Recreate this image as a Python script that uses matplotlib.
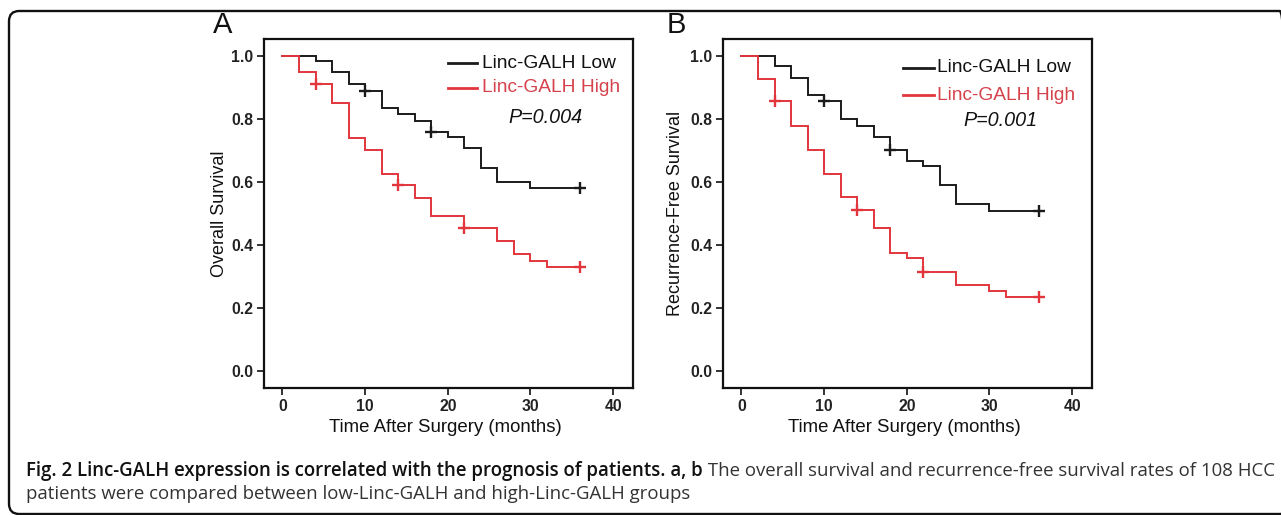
import matplotlib
matplotlib.use("Agg")
import matplotlib.pyplot as plt
from matplotlib.patches import FancyBboxPatch
from matplotlib.lines import Line2D

# ---------------- data ----------------
os_low_t = [0, 4, 6, 8, 10, 12, 14, 16, 18, 20, 22, 24, 26, 30, 36]
os_low_s = [1.0, 0.983, 0.948, 0.911, 0.890, 0.835, 0.816, 0.794, 0.757, 0.742, 0.708, 0.644, 0.601, 0.580, 0.580]
os_low_cens_t = [10, 18, 36]

os_high_t = [0, 2, 4, 6, 8, 10, 12, 14, 16, 18, 22, 26, 28, 30, 32, 36]
os_high_s = [1.0, 0.948, 0.911, 0.851, 0.740, 0.700, 0.625, 0.589, 0.549, 0.490, 0.453, 0.411, 0.371, 0.350, 0.328, 0.328]
os_high_cens_t = [4, 14, 22, 36]

rfs_low_t = [0, 4, 6, 8, 10, 12, 14, 16, 18, 20, 22, 24, 26, 30, 36]
rfs_low_s = [1.0, 0.967, 0.930, 0.877, 0.856, 0.801, 0.778, 0.741, 0.702, 0.665, 0.649, 0.591, 0.530, 0.506, 0.506]
rfs_low_cens_t = [10, 18, 36]

rfs_high_t = [0, 2, 4, 6, 8, 10, 12, 14, 16, 18, 20, 22, 26, 30, 32, 36]
rfs_high_s = [1.0, 0.928, 0.856, 0.777, 0.702, 0.626, 0.551, 0.512, 0.454, 0.374, 0.358, 0.314, 0.273, 0.254, 0.233, 0.233]
rfs_high_cens_t = [4, 14, 22, 36]

x_ticks = [0, 10, 20, 30, 40]
y_ticks = [0.0, 0.2, 0.4, 0.6, 0.8, 1.0]
series_labels = ["Linc-GALH Low", "Linc-GALH High"]
p_values = ["P=0.004", "P=0.001"]
panel_letters = ["A", "B"]
y_labels = ["Overall Survival", "Recurrence-Free Survival"]
x_label = "Time After Surgery (months)"
caption_bold = "Fig. 2 Linc-GALH expression is correlated with the prognosis of patients. a, b"
caption_reg1 = " The overall survival and recurrence-free survival rates of 108 HCC"
caption_reg2 = "patients were compared between low-Linc-GALH and high-Linc-GALH groups"

# ---------------- style ----------------
W, H, DPI = 1281, 515, 100
BLACK = "#1b1b1b"
RED = "#e2353c"
RED_TXT = "#d6424c"
CHART_FONT = "Liberation Sans"
CAP_FONT = "Open Sans"

fig = plt.figure(figsize=(W / DPI, H / DPI), dpi=DPI)
fig.patch.set_facecolor("white")


def fx(px):
    return px / W


def fy(py):
    return 1 - py / H


# rounded outer frame
frame = FancyBboxPatch((fx(9), fy(514)), fx(1290 - 9), fy(11) - fy(514),
                       boxstyle="round,pad=0,rounding_size=0.008",
                       transform=fig.transFigure, fill=False,
                       edgecolor="#111111", linewidth=1.7, mutation_aspect=W / H,
                       clip_on=False)
fig.patches.append(frame)

panels = [
    dict(left=264.3, right=633, low=(os_low_t, os_low_s, os_low_cens_t),
         high=(os_high_t, os_high_s, os_high_cens_t),
         leg_line=(448, 477), leg_text_x=482, leg_y=(63, 88), p_xy=(545, 118),
         letter_xy=(223, 25), ylab_x=220),
    dict(left=723.3, right=1092, low=(rfs_low_t, rfs_low_s, rfs_low_cens_t),
         high=(rfs_high_t, rfs_high_s, rfs_high_cens_t),
         leg_line=(903, 934), leg_text_x=937, leg_y=(68, 95), p_xy=(1000, 121),
         letter_xy=(676, 25), ylab_x=676),
]
top_px, bot_px = 39.3, 388

for i, p in enumerate(panels):
    ax = fig.add_axes([fx(p["left"]), fy(bot_px), fx(p["right"] - p["left"]),
                       (bot_px - top_px) / H])
    for (t, s, ct), col in ((p["low"], BLACK), (p["high"], RED)):
        ax.step(t, s, where="post", color=col, lw=1.4, solid_joinstyle="miter")
        cs = [s[t.index(c)] for c in ct]
        ax.plot(ct, cs, ls="none", marker="+", ms=8, mew=1.7, color=col)
    ax.set_xlim(-2.2, 42.4)
    ax.set_ylim(-0.055, 1.053)
    ax.set_xticks(x_ticks)
    ax.set_xticklabels([str(v) for v in x_ticks])
    ax.set_yticks(y_ticks)
    ax.set_yticklabels([f"{v:.1f}" for v in y_ticks])
    for sp in ax.spines.values():
        sp.set_linewidth(1.6)
        sp.set_color("#111111")
    ax.tick_params(direction="out", length=5, width=1.2, color="#111111",
                   labelsize=11.3, pad=3, labelcolor="#222222")
    for lab in ax.get_xticklabels() + ax.get_yticklabels():
        lab.set_fontfamily(CHART_FONT)
        lab.set_fontweight("bold")

    # legend (manual, to match original placement)
    x0, x1 = p["leg_line"]
    for yy, col, txt, tcol in ((p["leg_y"][0], BLACK, series_labels[0], "#111111"),
                               (p["leg_y"][1], RED, series_labels[1], RED_TXT)):
        fig.add_artist(Line2D([fx(x0), fx(x1)], [fy(yy), fy(yy)], color=col, lw=2.0,
                              transform=fig.transFigure))
        fig.text(fx(p["leg_text_x"]), fy(yy), txt, color=tcol, fontsize=13.8,
                 family=CHART_FONT, ha="left", va="center")
    fig.text(fx(p["p_xy"][0]), fy(p["p_xy"][1]), p_values[i], fontsize=14.2,
             family=CHART_FONT, style="italic", ha="center", va="center", color="#111111")
    fig.text(fx(p["letter_xy"][0]), fy(p["letter_xy"][1]), panel_letters[i], fontsize=21,
             family=CHART_FONT, ha="center", va="center", color="#111111")
    fig.text(fx(p["ylab_x"]), fy((top_px + bot_px) / 2), y_labels[i], fontsize=13,
             family=CHART_FONT, rotation=90, ha="center", va="center", color="#111111")
    fig.text(fx((p["left"] + p["right"]) / 2 - 3), fy(427), x_label, fontsize=13.4,
             family=CHART_FONT, ha="center", va="center", color="#111111")

# caption, fitted to the original width
fig.canvas.draw()
r = fig.canvas.get_renderer()
fs = 12
tb = fig.text(fx(26), fy(471), caption_bold, fontsize=fs, family=CAP_FONT,
              weight="semibold", ha="left", va="center", color="#111111")
bb = tb.get_window_extent(r)
tr = fig.text(fx(26) + bb.width / W, fy(471), caption_reg1, fontsize=fs, family=CAP_FONT,
              ha="left", va="center", color="#333333")
total = bb.width + tr.get_window_extent(r).width
scale = (1278 - 26) / total
fs2 = fs * scale
tb.set_fontsize(fs2)
tr.set_fontsize(fs2)
bb = tb.get_window_extent(r)
tr.set_x(fx(26) + bb.width / W)
fig.text(fx(26), fy(494), caption_reg2, fontsize=fs2, family=CAP_FONT,
         ha="left", va="center", color="#333333")

fig.savefig("out.png", dpi=DPI, facecolor="white")
